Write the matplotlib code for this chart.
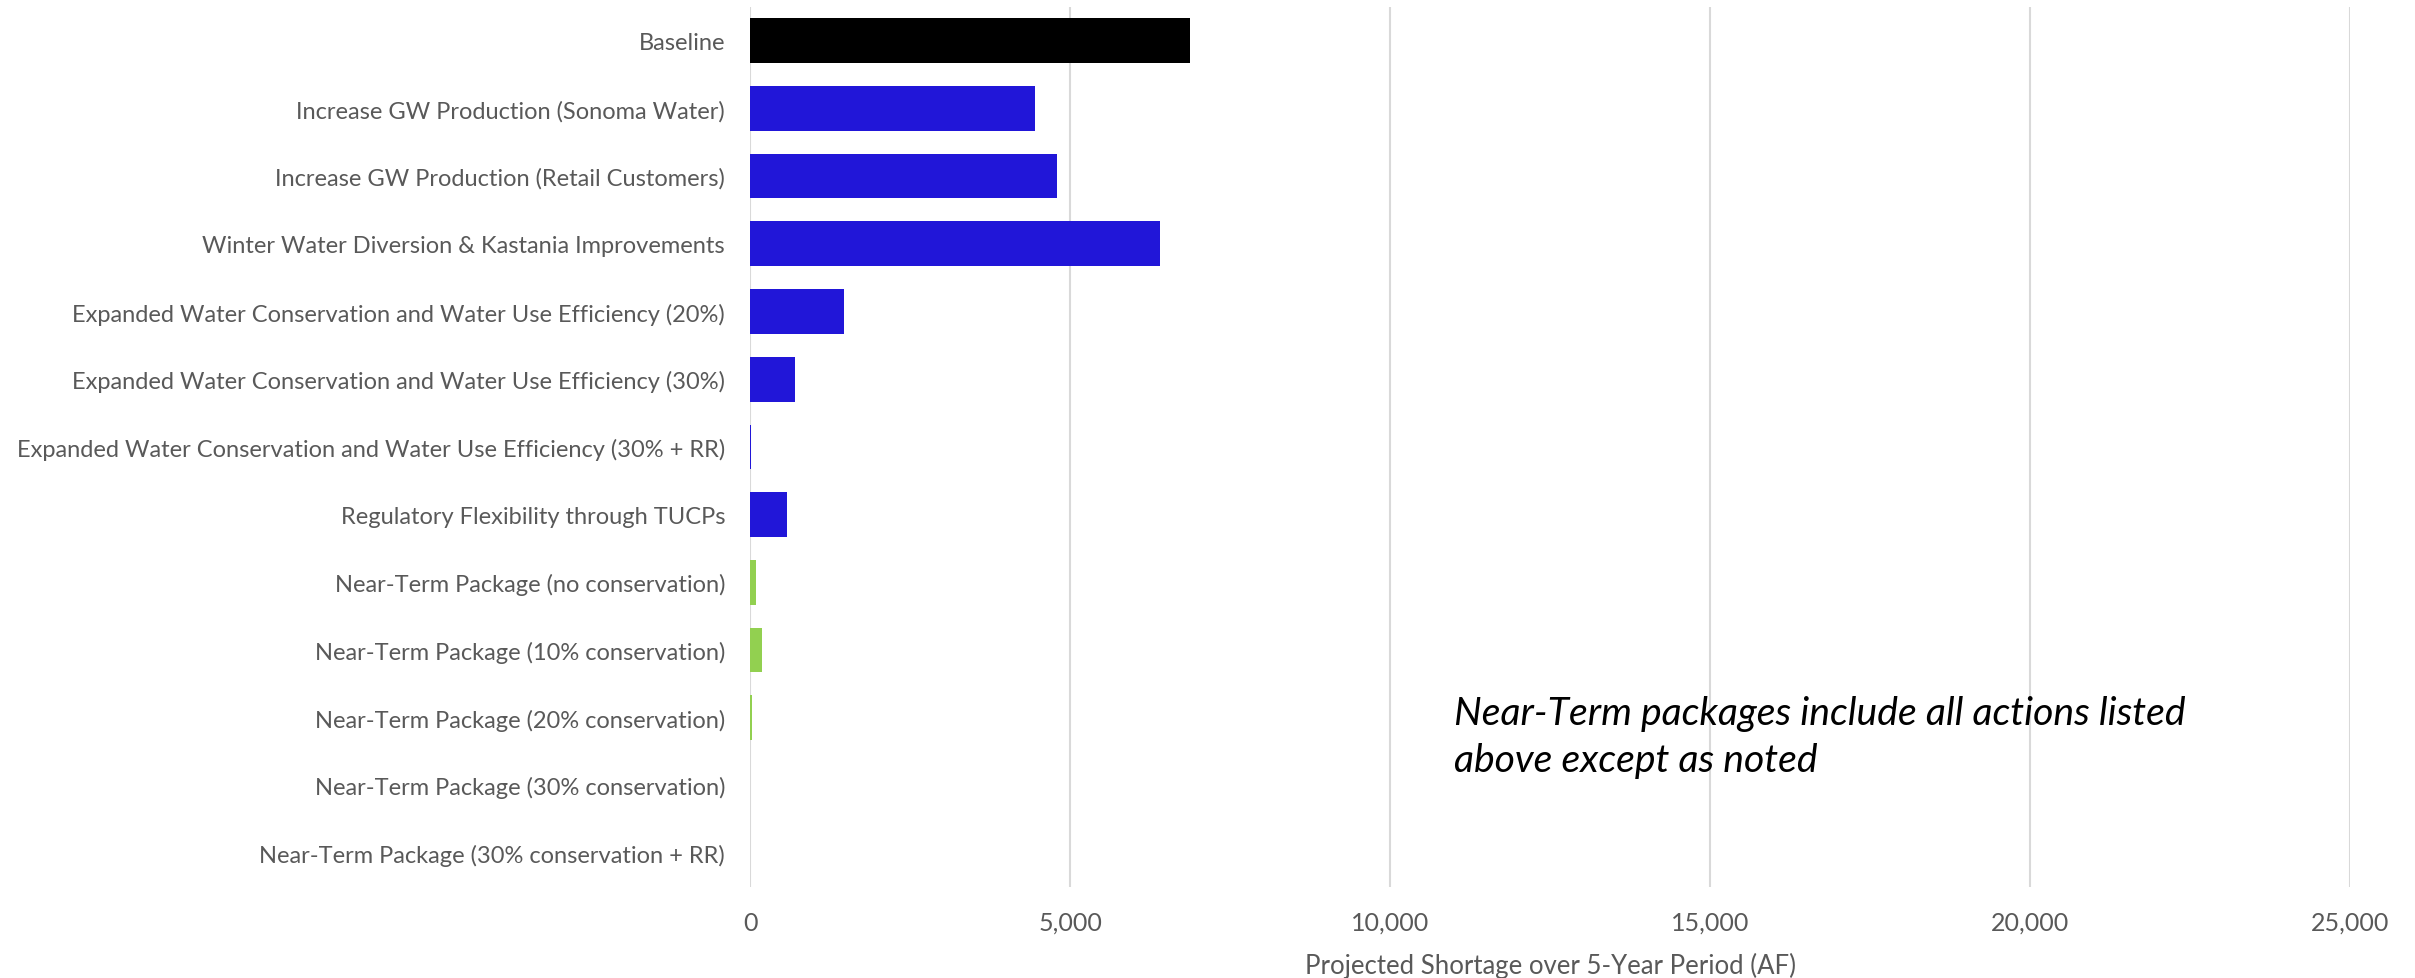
import matplotlib.pyplot as plt
import numpy as np

categories = [
    "Baseline",
    "Increase GW Production (Sonoma Water)",
    "Increase GW Production (Retail Customers)",
    "Winter Water Diversion & Kastania Improvements",
    "Expanded Water Conservation and Water Use Efficiency (20%)",
    "Expanded Water Conservation and Water Use Efficiency (30%)",
    "Expanded Water Conservation and Water Use Efficiency (30% + RR)",
    "Regulatory Flexibility through TUCPs",
    "Near-Term Package (no conservation)",
    "Near-Term Package (10% conservation)",
    "Near-Term Package (20% conservation)",
    "Near-Term Package (30% conservation)",
    "Near-Term Package (30% conservation + RR)",
]
shortage = [6880, 4455, 4790, 6400, 1475, 705, 20, 575, 85, 180, 35, 0, 0]
groups = ["base", "action", "action", "action", "action", "action", "action", "action",
          "package", "package", "package", "package", "package"]
group_colors = {"base": "#000000", "action": "#2116d8", "package": "#92d050"}
note = "Near-Term packages include all actions listed\nabove except as noted"

plt.rcParams['font.family'] = ['Lato', 'DejaVu Sans']

fig = plt.figure(figsize=(24.15, 9.79), dpi=100)
ax = fig.add_axes([0.3106, 0.093, 0.9731 - 0.3106, 0.992 - 0.093])

y = np.arange(len(categories))
ax.barh(y, shortage, height=0.66, color=[group_colors[g] for g in groups], zorder=3)

ax.set_xlim(0, 25000)
ax.set_ylim(len(categories) - 0.5, -0.5)
ax.set_yticks(y)
ax.set_yticklabels(categories, fontsize=17, color="#595959")
ax.set_xticks(np.arange(0, 25001, 5000))
ax.set_xticklabels([f"{v:,}" for v in range(0, 25001, 5000)], fontsize=18, color="#595959")
ax.tick_params(axis="both", length=0)
ax.tick_params(axis="y", pad=18)
ax.tick_params(axis="x", pad=17)
ax.grid(axis="x", color="#d9d9d9", linewidth=1.5, zorder=0)
for s in ax.spines.values():
    s.set_visible(False)

ax.set_xlabel("Projected Shortage over 5-Year Period (AF)", fontsize=18.5, color="#595959", labelpad=13)

ax.text(11000, 10.28, note, fontsize=28.2, style="italic", color="#000000",
        va="center", ha="left", linespacing=1.38)

fig.savefig("out.png", dpi=100)
